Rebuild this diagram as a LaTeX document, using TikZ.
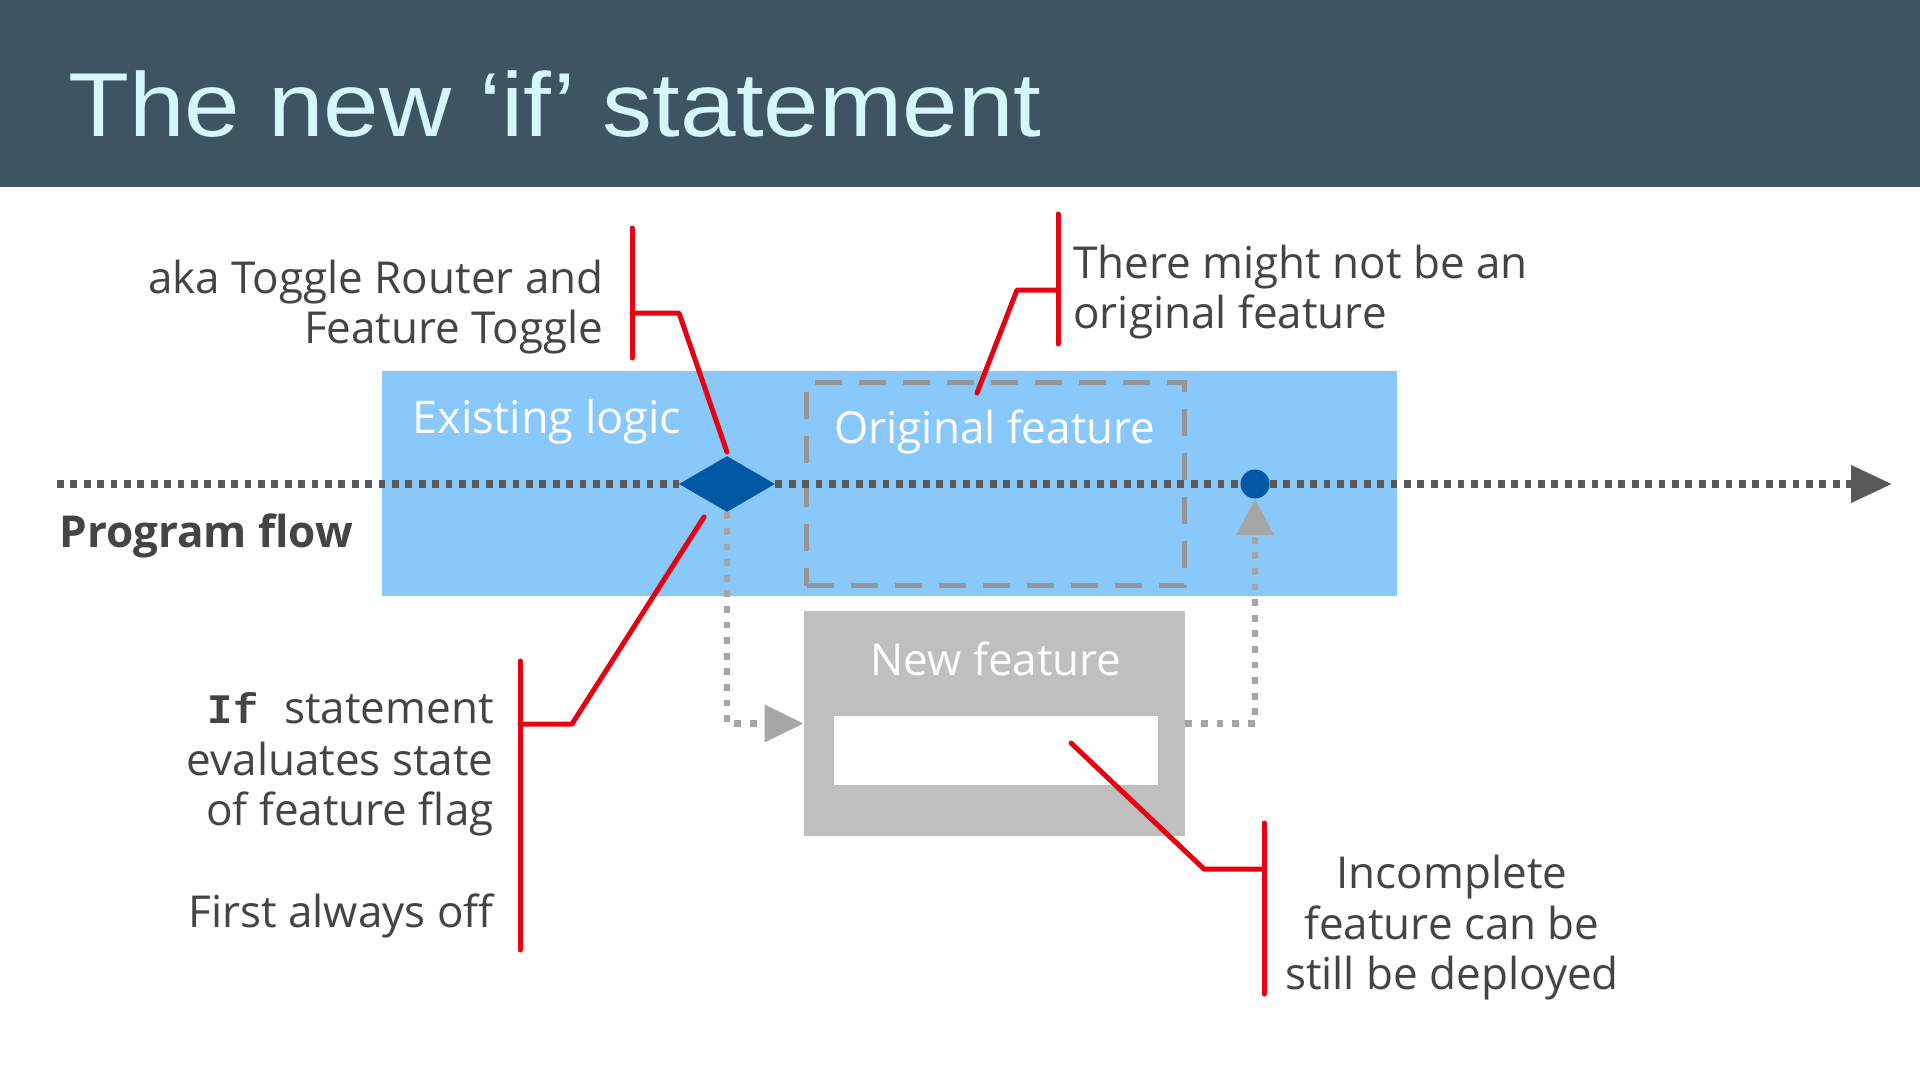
\documentclass[tikz,border=0pt]{standalone}
\usepackage{fontspec}
\usepackage{graphicx}
\setmainfont{Open Sans}
\newfontfamily\titlefont{Liberation Sans}
\newfontfamily\codefont{Liberation Mono}
\usetikzlibrary{arrows.meta,shapes.geometric}
\definecolor{hdr}{RGB}{61,85,97}
\definecolor{titlec}{RGB}{214,247,250}
\definecolor{band}{RGB}{137,200,250}
\definecolor{dblue}{RGB}{0,88,163}
\definecolor{flowgray}{RGB}{89,89,89}
\definecolor{lgray}{RGB}{166,166,166}
\definecolor{boxgray}{RGB}{191,191,191}
\definecolor{dashgray}{RGB}{150,150,150}
\definecolor{txtgray}{RGB}{68,68,68}
\definecolor{calred}{RGB}{232,0,18}
\begin{document}
\begin{tikzpicture}[x=0.5pt,y=-0.5pt,
  txt/.style={text=txtgray, inner sep=0pt, font=\fontsize{22}{25}\selectfont},
  wtxt/.style={text=white, inner sep=0pt, font=\fontsize{22}{25}\selectfont},
  redline/.style={draw=calred, line width=2.5pt, line cap=round, line join=round},
  flow/.style={draw=flowgray, line width=3.6pt, dash pattern=on 3.4pt off 3.3pt},
  gflow/.style={draw=lgray, line width=3.4pt, dash pattern=on 3.4pt off 4.4pt},
]
\useasboundingbox (0,0) rectangle (1920,1081);
\fill[white] (0,0) rectangle (1920,1081);
% header
\fill[hdr] (0,0) rectangle (1920,187);
\node[anchor=base west, inner sep=0pt, text=titlec, font=\titlefont\fontsize{45.4}{50}\selectfont] (title) at (68,136) {\scalebox{1.1}[1]{The new ‘if’ statement}};

% blue band
\node[rectangle, fill=band, inner sep=0pt, minimum width=507.5pt, minimum height=112.5pt] (band) at (889.5,483.5) {};
\node[wtxt, anchor=base west, font=\fontsize{22.5}{25}\selectfont] (exist) at (412,433) {Existing logic};

% original feature (dashed)
\node[rectangle, draw=dashgray, line width=2.5pt, dash pattern=on 13.5pt off 8.5pt, inner sep=0pt, minimum width=189pt, minimum height=101.5pt] (orig) at (995.5,484) {};
\node[wtxt, anchor=base west] (origt) at (834,443) {Original feature};

% new feature
\node[rectangle, fill=boxgray, inner sep=0pt, minimum width=190.5pt, minimum height=112.5pt] (nf) at (994.5,723.5) {};
\node[rectangle, fill=white, inner sep=0pt, minimum width=162pt, minimum height=34.5pt] (nfin) at (996,750.5) {};
\node[wtxt, anchor=base] (nft) at (996,675) {New feature};

% decision and merge
\node[diamond, fill=dblue, inner sep=0pt, aspect=1.7, minimum width=48pt, minimum height=28pt] (dia) at (727,484) {};
\node[circle, fill=dblue, inner sep=0pt, minimum size=14.5pt] (circ) at (1255,484) {};

% program flow
\coordinate (fstart) at (57,484);
\coordinate (fend) at (1892,484);
\draw[flow] (fstart) -- (dia.west);
\draw[flow] (dia.east) -- (circ.west);
\draw[flow, -{Triangle[length=20.5pt,width=18pt,fill=flowgray]}] (circ.east) -- (fend);
\node[anchor=base west, inner sep=0pt, text=txtgray, font=\fontsize{22}{25}\selectfont\bfseries] (pflow) at (59,547) {Program flow};

% branch connectors
\draw[gflow, -{Triangle[length=19.5pt,width=18pt,fill=lgray]}] (dia.south) |- (nf.west);
\draw[gflow, -{Triangle[length=18pt,width=18pt,fill=lgray]}] (nf.east) -| (circ.south);

% callout 1
\coordinate (c1a) at (632,228);
\coordinate (c1b) at (632,358);
\coordinate (c1m) at (632,313);
\coordinate (c1k) at (679,313);
\coordinate (c1e) at (727,452);
\draw[redline] (c1a) -- (c1b);
\draw[redline] (c1m) -- (c1k) -- (c1e);
\node[txt, anchor=base east] (t1a) at (604,293) {aka Toggle Router and};
\node[txt, anchor=base east] (t1b) at (604,343) {Feature Toggle};

% callout 2
\coordinate (c2a) at (1058,214);
\coordinate (c2b) at (1058,344);
\coordinate (c2m) at (1058,290);
\coordinate (c2k) at (1017,290);
\coordinate (c2e) at (977,393);
\draw[redline] (c2a) -- (c2b);
\draw[redline] (c2m) -- (c2k) -- (c2e);
\node[txt, anchor=base west] (t2a) at (1073,278) {There might not be an};
\node[txt, anchor=base west] (t2b) at (1073,328) {original feature};

% callout 3
\coordinate (c3a) at (520,661);
\coordinate (c3b) at (520,950);
\coordinate (c3m) at (520,724);
\coordinate (c3k) at (572,724);
\coordinate (c3e) at (704,517);
\draw[redline] (c3a) -- (c3b);
\draw[redline] (c3m) -- (c3k) -- (c3e);
\node[txt, anchor=base east] (t3a) at (494,723) {{\codefont\bfseries\fontsize{21}{25}\selectfont If}\hspace{13pt}statement};
\node[txt, anchor=base east] (t3b) at (494,775) {evaluates state};
\node[txt, anchor=base east] (t3c) at (494,825) {of feature flag};
\node[txt, anchor=base east] (t3d) at (494,927) {First always off};

% callout 4
\coordinate (c4a) at (1264,823);
\coordinate (c4b) at (1264,994);
\coordinate (c4m) at (1264,869);
\coordinate (c4k) at (1204,869);
\coordinate (c4e) at (1071,743);
\draw[redline] (c4a) -- (c4b);
\draw[redline] (c4m) -- (c4k) -- (c4e);
\node[txt, anchor=base] (t4a) at (1452,888) {Incomplete};
\node[txt, anchor=base] (t4b) at (1452,939) {feature can be};
\node[txt, anchor=base] (t4c) at (1452,989) {still be deployed};
\end{tikzpicture}
\end{document}
